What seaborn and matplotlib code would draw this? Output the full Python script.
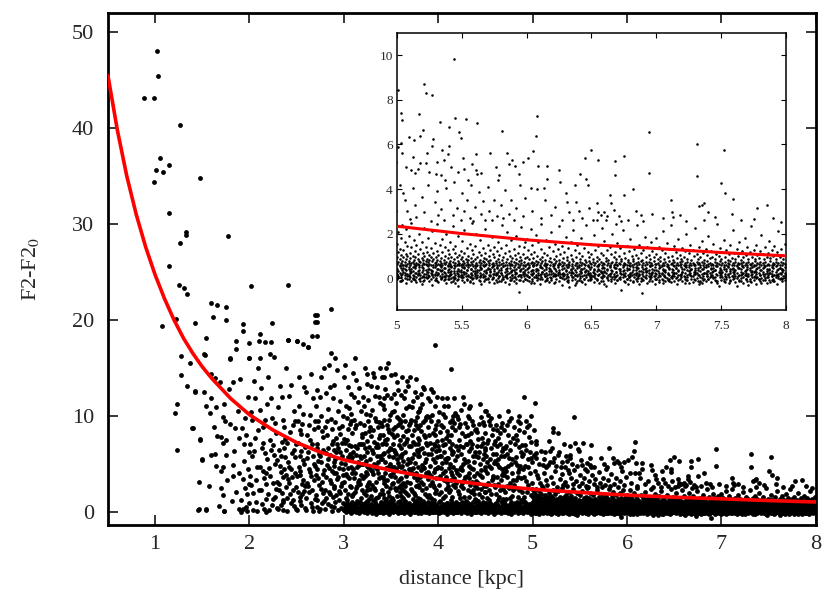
import numpy as np
import pandas as pd
import matplotlib
matplotlib.use("Agg")
import matplotlib.pyplot as plt
import seaborn as sns

# ---------------- data ----------------
# red fitted curve, distance [kpc] -> F2-F2_0
curve_d = [0.5, 0.6, 0.7, 0.8, 0.9, 1.0, 1.1, 1.2, 1.3, 1.4, 1.5, 1.6, 1.8, 2.0,
           2.25, 2.5, 2.75, 3.0, 3.5, 4.0, 4.5, 5.0, 5.5, 6.0, 6.5, 7.0, 7.5, 8.0]
curve_f = [45.5, 39.8, 35.0, 31.0, 27.6, 24.7, 22.2, 20.0, 18.1, 16.5, 15.1, 13.9, 11.8, 10.1,
           8.5, 7.2, 6.2, 5.4, 4.3, 3.4, 2.8, 2.33, 2.0, 1.72, 1.50, 1.33, 1.15, 1.0]

# scatter points: flat pairs (distance*100, value*10)
outliers_near = [102,480, 103,454, 88,431, 99,431, 126,403, 105,369, 115,362, 101,356, 108,354, 99,344,
    148,348, 115,311, 133,292, 133,288, 126,280, 177,287, 115,256, 125,236, 131,233, 134,227, 202,235,
    241,236, 159,218, 166,216, 175,213, 107,194, 122,201, 142,197, 154,181, 161,203, 175,200, 193,196,
    193,188, 224,197, 211,185, 216,177, 186,178, 200,176, 269,205, 271,198, 286,211, 271,183, 241,179,
    250,178, 257,175, 262,172, 127,162, 153,163, 179,160, 200,160, 222,164, 137,155, 127,142, 134,131,
    142,126, 123,112, 121,103, 123,64, 140,87, 148,75, 150,54, 146,3, 154,3, 173,1]
cloud_14_19 = [152,164, 179,159, 186,170, 159,144, 163,139, 169,135, 182,135, 142,125, 152,125, 159,118,
    154,110, 164,109, 173,112, 158,103, 172,99, 174,94, 179,91, 185,87, 139,87, 148,76, 166,79, 170,78,
    172,72, 175,75, 189,77, 150,55, 159,59, 163,60, 175,59, 172,47, 170,42, 182,49, 182,37, 189,40,
    170,25, 172,17, 181,11, 186,20, 145,2, 154,2, 173,1, 189,3, 176,33, 165,48, 157,27, 168,6, 184,63,
    147,31, 162,88, 178,128, 188,105]
cloud_19_25 = [191,12, 193,34, 194,71, 195,98, 196,5, 197,18, 198,44, 199,62, 192,87, 190,138, 195,25,
    197,1, 193,3, 198,120, 199,29, 194,53, 196,80, 191,0,
    200,9, 201,37, 202,104, 203,58, 204,19, 205,136, 206,77, 207,10, 208,46, 209,85, 200,160, 202,28,
    204,2, 205,63, 206,119, 207,33, 208,1, 209,150, 203,96, 201,71,
    210,22, 211,106, 211,47, 212,23, 213,66, 214,72, 215,3, 216,96, 217,40, 218,13, 219,55, 210,178,
    212,129, 213,8, 214,88, 215,35, 216,61, 217,0, 218,29, 219,112, 211,160, 214,42,
    220,18, 221,45, 222,75, 223,118, 224,7, 225,30, 226,59, 227,92, 228,24, 229,4, 220,140, 222,37,
    223,64, 224,98, 225,13, 226,161, 227,50, 228,82, 229,31, 221,2, 223,177, 225,69, 227,15, 229,54,
    230,109, 231,22, 232,48, 233,7, 234,73, 235,36, 236,12, 237,88, 238,57, 239,26, 230,3, 231,64,
    232,131, 233,41, 234,19, 235,96, 236,2, 237,44, 238,76, 239,150, 231,29, 233,58, 235,10, 237,66,
    239,38, 234,120,
    240,14, 241,179, 241,52, 242,30, 243,83, 244,9, 245,61, 246,23, 247,105, 248,40, 249,70, 240,1,
    242,47, 243,18, 244,132, 245,36, 246,90, 247,6, 248,57, 249,26, 240,72, 242,121, 244,44, 246,12,
    248,95, 249,3, 241,34, 247,64]
cloud_25_30 = [250,178, 251,20, 252,46, 253,85, 254,11, 255,63, 256,29, 257,102, 258,50, 259,4, 250,37,
    251,72, 252,140, 253,15, 254,58, 255,7, 256,91, 257,33, 258,21, 259,67, 250,2, 252,110, 253,42,
    255,81, 256,18, 257,54, 258,130, 259,27, 251,95, 254,38,
    260,14, 261,56, 262,172, 262,27, 263,90, 264,41, 265,9, 266,70, 267,118, 268,33, 269,48, 260,2,
    261,80, 262,62, 263,20, 264,101, 265,37, 266,5, 267,58, 268,86, 269,13, 260,125, 261,30, 263,44,
    264,75, 265,143, 266,22, 267,1, 268,50, 269,95, 266,183, 269,198,
    270,38, 271,205, 271,12, 272,66, 273,95, 274,28, 275,3, 276,52, 277,84, 278,19, 279,43, 270,110,
    271,71, 272,5, 273,35, 274,60, 275,120, 276,24, 277,9, 278,78, 279,150, 270,17, 272,44, 273,88,
    274,1, 275,58, 276,100, 277,31, 278,64, 279,11, 271,127, 273,53, 276,140, 278,39,
    280,22, 281,61, 282,94, 283,8, 284,45, 285,130, 286,30, 287,71, 288,15, 289,52, 280,3, 281,36,
    282,80, 283,107, 284,20, 285,59, 286,6, 287,42, 288,118, 289,27, 280,88, 281,14, 282,49, 283,66,
    284,153, 285,33, 286,97, 287,1, 288,74, 289,40, 281,124, 283,55, 285,18, 287,86, 289,64, 286,165,
    290,48, 291,10, 292,77, 293,34, 294,105, 295,21, 296,62, 297,4, 298,89, 299,38, 290,132, 291,55,
    292,17, 293,70, 294,2, 295,45, 296,115, 297,27, 298,58, 299,9, 290,25, 291,93, 292,40, 293,148,
    294,66, 295,12, 296,81, 297,51, 298,30, 299,100, 290,5, 292,62, 294,36, 296,19, 298,72, 299,44,
    291,160, 295,87]
cloud_30_35 = [300,31, 301,72, 302,14, 303,98, 304,45, 305,5, 306,60, 307,123, 308,26, 309,82, 300,2,
    301,50, 302,110, 303,37, 304,18, 305,69, 306,91, 307,8, 308,54, 309,40, 300,140, 301,22, 302,64,
    303,12, 304,86, 305,35, 306,1, 307,47, 308,102, 309,16, 300,76, 302,39, 304,130, 306,27, 308,68,
    309,57, 301,153, 303,75, 305,108, 307,95, 308,3, 304,57,
    310,44, 311,8, 312,87, 313,25, 314,66, 315,114, 316,33, 317,3, 318,56, 319,78, 310,18, 311,96,
    312,40, 313,137, 314,11, 315,52, 316,71, 317,29, 318,105, 319,6, 310,62, 311,35, 312,20, 313,90,
    314,47, 315,2, 316,129, 317,58, 318,14, 319,81, 310,145, 312,68, 314,27, 316,9, 318,38, 319,50,
    311,120, 313,59, 315,31, 317,92, 319,22, 310,1, 316,49, 312,160, 318,71,
    320,35, 321,58, 322,9, 323,102, 324,27, 325,74, 326,46, 327,13, 328,88, 329,2, 320,120, 321,19,
    322,66, 323,41, 324,143, 325,5, 326,95, 327,31, 328,55, 329,79, 320,8, 321,110, 322,37, 323,17,
    324,62, 325,48, 326,1, 327,84, 328,24, 329,131, 320,70, 322,150, 324,11, 326,29, 328,101, 329,43,
    321,90, 323,53, 325,133, 327,67, 329,16, 320,50, 322,82, 324,39, 326,116, 328,4, 325,22, 327,45,
    330,28, 331,61, 332,140, 333,7, 334,95, 335,44, 336,15, 337,77, 338,113, 339,36, 330,3, 331,85,
    332,50, 333,22, 334,67, 335,130, 336,40, 337,2, 338,58, 339,92, 330,106, 331,12, 332,73, 333,47,
    334,31, 335,6, 336,88, 337,120, 338,18, 339,55, 330,64, 331,145, 332,25, 333,98, 334,1, 335,70,
    336,52, 337,35, 338,80, 339,10, 331,39, 333,121, 335,58, 337,93, 339,4, 332,5, 334,48, 336,67,
    338,150, 330,42, 334,14, 337,0,
    340,55, 341,18, 342,96, 343,33, 344,128, 345,70, 346,9, 347,47, 348,83, 349,25, 340,2, 341,111,
    342,61, 343,4, 344,40, 345,150, 346,76, 347,20, 348,58, 349,101, 340,89, 341,36, 342,14, 343,72,
    344,52, 345,27, 346,122, 347,1, 348,44, 349,66, 340,140, 341,80, 342,30, 343,107, 344,10, 345,45,
    346,90, 347,63, 348,16, 349,38, 340,23, 342,118, 344,75, 346,33, 348,96, 349,5, 341,60, 343,140,
    345,13, 347,86, 349,50, 340,70, 343,0, 346,2, 348,1, 347,155]
cloud_35_40 = [350,37, 351,81, 352,12, 353,64, 354,143, 355,22, 356,99, 357,51, 358,6, 359,75, 350,118,
    351,29, 352,57, 353,3, 354,88, 355,44, 356,16, 357,127, 358,69, 359,34, 350,9, 351,104, 352,40,
    353,78, 354,25, 355,60, 356,135, 357,1, 358,48, 359,92, 350,65, 351,14, 352,86, 353,46, 354,7,
    355,113, 356,55, 357,32, 358,97, 359,20, 350,142, 352,70, 354,36, 356,80, 358,26, 359,58, 351,47,
    353,123, 355,4, 357,90, 359,11, 350,2, 352,30, 354,62, 356,2, 358,0, 355,1, 353,105,
    360,46, 361,7, 362,88, 363,30, 364,118, 365,62, 366,19, 367,76, 368,131, 369,40, 360,3, 361,57,
    362,24, 363,101, 364,42, 365,11, 366,84, 367,50, 368,2, 369,68, 360,95, 361,35, 362,140, 363,14,
    364,70, 365,27, 366,108, 367,5, 368,55, 369,90, 360,66, 361,122, 362,48, 363,79, 364,21, 365,94,
    366,37, 367,136, 368,17, 369,3, 360,28, 362,60, 364,9, 366,73, 368,85, 369,44, 361,16, 363,53,
    365,126, 367,31, 369,110, 360,1, 362,0, 364,2, 366,1, 368,0,
    370,52, 371,96, 372,21, 373,73, 374,8, 375,125, 376,40, 377,64, 378,14, 379,87, 370,30, 371,2,
    372,109, 373,45, 374,60, 375,17, 376,138, 377,33, 378,77, 379,5, 370,92, 371,24, 372,56, 373,115,
    374,36, 375,70, 376,10, 377,99, 378,47, 379,28, 370,6, 371,68, 372,40, 373,13, 374,85, 375,51,
    376,27, 377,120, 378,62, 379,104, 370,140, 372,80, 374,19, 376,90, 378,35, 379,58, 371,44, 373,3,
    375,95, 377,11, 379,71, 370,1, 374,0, 378,1, 372,1, 376,2,
    380,26, 381,65, 382,9, 383,112, 384,47, 385,80, 386,18, 387,55, 388,100, 389,34, 380,4, 381,90,
    382,43, 383,22, 384,130, 385,61, 386,7, 387,72, 388,38, 389,118, 380,58, 381,13, 382,84, 383,49,
    384,29, 385,3, 386,96, 387,40, 388,69, 389,15, 380,105, 381,36, 382,123, 383,66, 384,11, 385,45,
    386,78, 387,25, 388,2, 389,88, 380,75, 382,31, 384,93, 386,52, 388,16, 389,60, 381,108, 383,6,
    385,128, 387,99, 389,41, 380,0, 383,1, 386,1, 388,0,
    390,39, 391,72, 392,14, 393,101, 394,55, 395,26, 396,86, 397,3, 398,63, 399,120, 390,17, 391,48,
    392,94, 393,31, 394,8, 395,70, 396,44, 397,110, 398,22, 399,57, 390,80, 391,5, 392,37, 393,65,
    394,125, 395,12, 396,52, 397,80, 398,35, 399,2, 390,99, 392,60, 394,28, 396,19, 398,90, 399,45,
    391,115, 393,10, 395,41, 397,68, 399,74, 397,174, 390,1, 393,0, 396,1, 399,0, 391,28, 394,82,
    398,7, 392,128]
cloud_40_45 = [400,46, 401,18, 402,83, 403,58, 404,6, 405,102, 406,33, 407,71, 408,24, 409,119, 400,3,
    401,64, 402,37, 403,90, 404,51, 405,14, 406,110, 407,42, 408,77, 409,9, 400,95, 401,28, 402,58,
    403,20, 404,75, 405,40, 406,2, 407,99, 408,52, 409,31, 400,68, 402,11, 404,118, 406,62, 408,36,
    409,84, 401,104, 403,45, 405,69, 407,16, 409,56, 400,1, 403,0, 406,1, 409,0, 405,88, 402,4, 407,55,
    410,27, 411,74, 412,50, 413,149, 413,12, 414,96, 415,38, 416,62, 417,5, 418,85, 419,43, 410,110,
    411,20, 412,66, 413,33, 414,9, 415,88, 416,47, 417,118, 418,26, 419,68, 410,56, 411,3, 412,93,
    413,41, 414,71, 415,15, 416,100, 417,35, 418,54, 419,2, 410,80, 412,22, 414,60, 416,8, 418,103,
    419,30, 411,45, 413,80, 415,63, 417,92, 410,0, 414,1, 418,0, 416,28,
    420,58, 421,21, 422,88, 423,44, 424,106, 425,10, 426,67, 427,33, 428,79, 429,52, 420,3, 421,97,
    422,38, 423,14, 424,60, 425,82, 426,25, 427,112, 428,6, 429,71, 420,40, 421,64, 422,18, 423,91,
    424,47, 425,30, 426,120, 427,55, 428,36, 429,11, 420,100, 422,75, 424,27, 426,50, 428,92, 429,2,
    421,8, 423,68, 425,43, 427,15, 420,0, 424,1, 428,1,
    430,37, 431,80, 432,15, 433,63, 434,110, 435,45, 436,5, 437,90, 438,52, 439,27, 430,70, 431,22,
    432,98, 433,40, 434,8, 435,66, 436,31, 437,58, 438,18, 439,85, 430,10, 431,53, 432,35, 433,108,
    434,74, 435,20, 436,95, 437,44, 438,2, 439,62, 430,88, 432,48, 434,28, 436,70, 438,37, 439,13,
    431,100, 433,5, 435,82, 437,23, 431,0, 435,1, 439,0,
    440,32, 441,68, 442,11, 443,91, 444,50, 445,24, 446,77, 447,4, 448,60, 449,105, 440,86, 441,40,
    442,57, 443,18, 444,7, 445,99, 446,36, 447,72, 448,27, 449,47, 440,12, 441,83, 442,30, 443,62,
    444,112, 445,43, 446,3, 447,55, 448,90, 449,20, 440,58, 442,76, 444,38, 446,15, 448,8, 449,66,
    441,25, 445,68, 447,93, 440,1, 444,0, 448,1]
cloud_45_50 = [450,43, 451,9, 452,72, 453,30, 454,95, 455,55, 456,18, 457,80, 458,37, 459,2, 450,64,
    451,27, 452,14, 453,101, 454,48, 455,8, 456,66, 457,33, 458,86, 459,51, 450,20, 451,58, 452,40,
    453,75, 454,23, 455,90, 456,45, 457,6, 458,60, 459,28, 450,82, 452,52, 454,12, 456,98, 458,35,
    459,70, 451,105, 455,1, 459,0, 453,0,
    460,26, 461,60, 462,85, 463,12, 464,47, 465,70, 466,33, 467,5, 468,92, 469,40, 460,53, 461,18,
    462,36, 463,77, 464,100, 465,23, 466,58, 467,44, 468,10, 469,66, 460,8, 461,90, 462,50, 463,29,
    464,15, 465,82, 466,4, 467,63, 468,38, 469,24, 460,74, 463,55, 466,88, 469,13, 461,1, 465,0,
    467,1, 462,68,
    470,38, 471,66, 472,13, 473,90, 474,48, 475,25, 476,73, 477,7, 478,55, 479,33, 470,85, 471,20,
    472,42, 473,60, 474,3, 475,94, 476,30, 477,50, 478,16, 479,77, 470,10, 471,45, 472,68, 473,27,
    474,80, 475,56, 476,14, 477,98, 478,40, 479,5, 470,58, 473,36, 476,64, 479,22, 472,0, 477,1, 474,105,
    480,28, 481,52, 482,80, 483,10, 484,41, 485,67, 486,22, 487,92, 488,35, 489,58, 480,6, 481,70,
    482,33, 483,49, 484,15, 485,85, 486,44, 487,3, 488,62, 489,20, 480,88, 481,25, 482,57, 483,75,
    484,36, 485,8, 486,100, 487,48, 488,12, 489,69, 482,2, 486,0, 489,1, 484,95,
    490,44, 491,15, 492,69, 493,32, 494,88, 495,55, 496,8, 497,40, 498,73, 499,24, 490,60, 491,36,
    492,10, 493,95, 494,20, 495,47, 496,78, 497,3, 498,56, 499,30, 490,12, 491,83, 492,48, 493,64,
    494,5, 495,28, 496,90, 497,62, 498,17, 499,52, 491,120, 493,1, 496,0, 499,1, 498,100, 502,113]

# points with finer values: flat pairs (distance*100, value*100)
band_30_40 = [300,12, 301,35, 302,-5, 303,20, 304,48, 305,8, 306,27, 307,-12, 308,15, 309,40, 310,3,
    311,22, 312,55, 313,-8, 314,30, 315,14, 316,-18, 317,45, 318,6, 319,25, 320,33, 321,-3, 322,18,
    323,60, 324,9, 325,-15, 326,28, 327,40, 328,2, 329,16, 330,-10, 330,24, 331,50, 332,7, 333,31,
    334,-20, 335,13, 336,42, 337,19, 338,-6, 339,35, 340,5, 340,27, 341,-14, 342,58, 343,11, 344,22,
    345,-2, 346,38, 347,15, 348,-25, 349,30, 350,8, 350,44, 351,19, 352,-9, 353,26, 354,3, 355,52,
    356,14, 357,-17, 358,33, 359,21, 360,6, 360,-4, 361,40, 362,17, 363,28, 364,-12, 365,9, 366,48,
    367,23, 368,-1, 369,35, 370,12, 370,-20, 371,30, 372,5, 373,55, 374,18, 375,-7, 376,26, 377,42,
    378,10, 379,-15, 380,20, 380,36, 381,2, 382,-10, 383,28, 384,15, 385,50, 386,-3, 387,24, 388,8,
    389,38, 390,-18, 390,13, 391,30, 392,45, 393,4, 394,-8, 395,22, 396,33, 397,-1, 398,17, 399,57]
band_40_50 = [400,10, 400,30, 401,-12, 402,22, 403,4, 404,45, 405,15, 406,-6, 407,34, 408,20, 409,-22,
    410,8, 410,40, 411,26, 412,-3, 413,13, 414,55, 415,30, 416,-15, 417,6, 418,24, 419,38, 420,-8,
    420,16, 421,48, 422,2, 423,28, 424,-19, 425,12, 426,35, 427,20, 428,-4, 429,9, 430,42, 430,-11,
    431,25, 432,5, 433,58, 434,17, 435,-26, 436,31, 437,11, 438,22, 439,-2, 440,14, 440,46, 441,-9,
    442,27, 443,3, 444,36, 445,-16, 446,19, 447,8, 448,52, 449,24, 450,-5, 450,13, 451,39, 452,21,
    453,-13, 454,6, 455,30, 456,44, 457,-1, 458,16, 459,-30, 460,27, 460,9, 461,50, 462,-7, 463,19,
    464,33, 465,2, 466,-18, 467,24, 468,12, 469,40, 470,-3, 470,28, 471,6, 472,55, 473,15, 474,-11,
    475,35, 476,22, 477,-24, 478,8, 479,31, 480,17, 480,-6, 481,45, 482,11, 483,26, 484,-14, 485,3,
    486,38, 487,20, 488,-2, 489,13, 490,50, 490,-17, 491,29, 492,7, 493,34, 494,-9, 495,18, 496,42,
    497,1, 498,-20, 499,25]
low_30_50 = [301,65, 303,90, 305,48, 307,75, 309,100, 311,58, 313,82, 315,40, 317,95, 319,70, 321,52,
    323,88, 325,105, 327,62, 329,78, 331,45, 333,98, 335,68, 337,55, 339,85, 341,72, 343,50, 345,92,
    347,66, 349,108, 351,57, 353,80, 355,44, 357,97, 359,63, 361,76, 363,54, 365,102, 367,70, 369,88,
    371,47, 373,64, 375,95, 377,58, 379,82, 381,73, 383,42, 385,90, 387,60, 389,105, 391,68, 393,52,
    395,84, 397,76, 399,46, 401,98, 403,62, 405,80, 407,55, 409,92, 411,70, 413,48, 415,86, 417,64,
    419,100, 421,58, 423,78, 425,45, 427,94, 429,67, 431,84, 433,53, 435,72, 437,104, 439,60, 441,88,
    443,47, 445,76, 447,96, 449,62, 451,80, 453,55, 455,91, 457,68, 459,50, 461,86, 463,73, 465,45,
    467,99, 469,64, 471,82, 473,57, 475,70, 477,102, 479,48, 481,88, 483,66, 485,78, 487,53, 489,95,
    491,60, 493,84, 495,71, 497,49, 499,90]
band_50_55 = [500,12, 500,-5, 501,31, 501,8, 502,-14, 502,22, 503,45, 503,3, 504,17, 504,-8, 505,27,
    505,60, 506,1, 506,14, 507,-21, 507,36, 508,9, 508,19, 509,-2, 509,52, 510,25, 510,6, 511,-11,
    511,40, 512,15, 512,30, 513,-4, 513,11, 514,55, 514,21, 515,-17, 515,7, 516,33, 516,18, 517,-6,
    517,48, 518,13, 518,2, 519,26, 519,-25, 520,10, 520,38, 521,-9, 521,20, 522,4, 522,62, 523,29,
    523,-1, 524,16, 524,43, 525,-13, 525,8, 526,24, 526,35, 527,-30, 527,12, 528,5, 528,50, 529,19,
    529,-7, 530,28, 530,1, 531,41, 531,14, 532,-18, 532,23, 533,9, 533,57, 534,-3, 534,32, 535,17,
    535,6, 536,-10, 536,44, 537,21, 537,3, 538,-22, 538,13, 539,37, 539,26, 540,-5, 540,10, 541,53,
    541,18, 542,-1, 542,30, 543,7, 543,-15, 544,24, 544,46, 545,2, 545,15, 546,-8, 546,34, 547,20,
    547,-35, 548,11, 548,58, 549,27, 549,4, 500,20, 503,-12, 506,40, 509,15, 512,-3, 515,24, 518,-14,
    521,5, 524,29, 527,18, 530,-9, 533,36, 536,11, 539,-2, 542,19, 545,-24, 548,32, 547,9, 544,-6, 541,28]
band_55_60 = [550,14, 550,-7, 551,29, 551,3, 552,48, 552,-16, 553,9, 553,21, 554,-2, 554,37, 555,16,
    555,60, 556,-11, 556,6, 557,25, 557,42, 558,-4, 558,12, 559,31, 559,-20, 560,8, 560,19, 561,53,
    561,-1, 562,27, 562,13, 563,-9, 563,35, 564,4, 564,22, 565,-26, 565,46, 566,17, 566,7, 567,-13,
    567,30, 568,11, 568,58, 569,-5, 569,24, 570,2, 570,39, 571,15, 571,-17, 572,28, 572,9, 573,-3,
    573,50, 574,20, 574,5, 575,-23, 575,33, 576,12, 576,-8, 577,44, 577,18, 578,1, 578,26, 579,-14,
    579,9, 580,36, 580,21, 581,-6, 581,14, 582,55, 582,3, 583,-19, 583,29, 584,10, 584,41, 585,-1,
    585,17, 586,-28, 586,23, 587,6, 587,47, 588,-10, 588,32, 589,13, 589,2, 590,-15, 590,38, 591,20,
    591,7, 592,-4, 592,25, 593,52, 593,11, 594,-60, 594,16, 595,30, 595,-7, 596,4, 596,43, 597,19,
    597,-12, 598,27, 598,8, 599,-2, 599,35, 552,18, 556,-19, 560,31, 564,10, 568,-6, 572,40, 576,24,
    580,-11, 584,15, 588,26, 592,-22, 596,13, 599,20, 557,5, 583,9, 591,28]
band_60_65 = [600,10, 600,-8, 601,27, 601,44, 602,4, 602,-15, 603,19, 603,33, 604,-3, 604,12, 605,57,
    605,23, 606,-20, 606,7, 607,30, 607,15, 608,-10, 608,40, 609,2, 609,21, 610,-27, 610,13, 611,48,
    611,6, 612,-5, 612,26, 613,17, 613,35, 614,-14, 614,9, 615,22, 615,52, 616,-1, 616,14, 617,31,
    617,-18, 618,5, 618,39, 619,18, 619,-7, 620,25, 620,11, 621,-24, 621,45, 622,8, 622,20, 623,-3,
    623,34, 624,15, 624,60, 625,-12, 625,28, 626,3, 626,17, 627,-32, 627,41, 628,10, 628,23, 629,-6,
    629,14, 630,30, 630,-1, 631,50, 631,19, 632,7, 632,-16, 633,-38, 633,26, 634,12, 634,36, 635,-9,
    635,4, 636,21, 636,47, 637,-4, 637,15, 638,29, 638,-21, 639,9, 639,55, 640,18, 640,-7, 641,2,
    641,33, 642,24, 642,-13, 643,11, 643,42, 644,-2, 644,16, 645,28, 645,-26, 646,6, 646,37, 647,20,
    647,-10, 648,13, 648,49, 649,-5, 649,25, 603,-22, 607,5, 611,18, 615,-8, 619,32, 623,12, 627,20,
    631,-11, 635,27, 639,15, 643,-19, 647,31, 649,7, 605,38, 637,-30]
band_65_70 = [650,15, 650,-4, 651,29, 651,8, 652,-17, 652,41, 653,20, 653,2, 654,-9, 654,33, 655,12,
    655,55, 656,-23, 656,18, 657,6, 657,26, 658,-1, 658,44, 659,14, 659,-13, 660,31, 660,9, 661,-35,
    661,21, 662,3, 662,38, 663,-7, 663,16, 664,50, 664,11, 665,-15, 665,24, 666,5, 666,34, 667,-3,
    667,19, 668,46, 668,-20, 669,8, 669,27, 670,13, 670,-10, 671,40, 671,1, 672,22, 672,-6, 673,-51,
    673,17, 674,30, 674,7, 675,-14, 675,59, 676,10, 676,25, 677,-2, 677,36, 678,15, 678,-25, 679,4,
    679,43, 680,20, 680,-8, 681,12, 681,28, 682,-18, 682,52, 683,6, 683,19, 684,-4, 684,35, 685,23,
    685,-12, 686,9, 686,47, 687,-28, 687,14, 688,31, 688,2, 689,-66, 689,18, 690,26, 690,-9, 691,7,
    691,40, 692,16, 692,-1, 693,33, 693,-21, 694,11, 694,24, 695,-5, 695,56, 696,19, 696,3, 697,-14,
    697,29, 698,8, 698,38, 699,-3, 699,21, 652,10, 656,35, 660,-26, 664,19, 668,5, 672,32, 676,-17,
    680,8, 684,23, 688,-11, 692,30, 696,12, 699,-27, 658,22, 686,-1]
band_70_75 = [700,18, 700,-6, 701,33, 701,5, 702,-16, 702,24, 703,11, 703,48, 704,-3, 704,20, 705,37,
    705,-22, 706,8, 706,15, 707,-11, 707,29, 708,54, 708,2, 709,-7, 709,22, 710,13, 710,41, 711,-19,
    711,6, 712,26, 712,-1, 713,17, 713,35, 714,-13, 714,9, 715,45, 715,21, 716,-26, 716,3, 717,30,
    717,14, 718,-5, 718,58, 719,19, 719,7, 720,-15, 720,27, 721,10, 721,39, 722,-2, 722,23, 723,50,
    723,-9, 724,16, 724,4, 725,-20, 725,32, 726,12, 726,25, 727,-4, 727,43, 728,8, 728,-17, 729,28,
    729,18, 730,-8, 730,36, 731,1, 731,21, 732,-12, 732,47, 733,-28, 733,14, 734,30, 734,6, 735,-24,
    735,19, 736,40, 736,11, 737,-3, 737,25, 738,52, 738,-14, 739,9, 739,17, 740,-6, 740,33, 741,22,
    741,3, 742,-18, 742,44, 743,13, 743,27, 744,-1, 744,7, 745,35, 745,-10, 746,20, 746,56, 747,-21,
    747,12, 748,-35, 748,29, 749,4, 749,38, 702,-9, 706,31, 710,-4, 714,22, 718,12, 722,-23, 726,37,
    730,17, 734,-11, 738,24, 742,8, 746,-15, 749,21, 712,8, 736,-8]
band_75_80 = [750,13, 750,-7, 751,27, 751,4, 752,-14, 752,39, 753,19, 753,8, 754,-2, 754,31, 755,50,
    755,15, 756,-20, 756,6, 757,24, 757,-9, 758,42, 758,11, 759,-4, 759,29, 760,17, 760,2, 761,-16,
    761,36, 762,-35, 762,21, 763,8, 763,46, 764,-11, 764,14, 765,28, 765,-1, 766,55, 766,18, 767,-23,
    767,5, 768,33, 768,12, 769,-6, 769,25, 770,40, 770,-13, 771,9, 771,20, 772,-3, 772,37, 773,15,
    773,-19, 774,48, 774,3, 775,26, 775,-8, 776,11, 776,31, 777,-27, 777,18, 778,7, 778,44, 779,-4,
    779,22, 780,14, 780,-15, 781,35, 781,2, 782,-10, 782,27, 783,52, 783,9, 784,-1, 784,19, 785,-22,
    785,33, 786,13, 786,5, 787,-7, 787,41, 788,24, 788,-17, 789,10, 789,30, 790,-3, 790,58, 791,16,
    791,-12, 792,4, 792,26, 793,-25, 793,38, 794,11, 794,20, 795,-6, 795,45, 796,17, 796,1, 797,-14,
    797,29, 798,8, 798,36, 799,-9, 799,22, 753,-18, 757,34, 761,10, 765,-13, 769,16, 773,29, 777,2,
    781,-20, 785,24, 789,-8, 793,14, 797,40, 799,5, 771,-29, 789,19]
band_core = [501,5, 503,16, 504,-10, 506,24, 508,-3, 509,10, 511,28, 512,0, 514,-8, 516,13, 517,21,
    519,4, 520,-15, 522,17, 524,7, 526,-4, 527,30, 529,12, 531,-11, 532,19, 534,2, 536,26, 537,-6,
    539,9, 541,15, 542,-18, 544,6, 546,22, 547,-2, 549,14, 550,3, 552,27, 554,-9, 555,11, 557,18,
    559,-1, 560,24, 562,6, 564,-13, 565,16, 567,8, 569,29, 570,-5, 572,13, 574,1, 575,20, 577,-16,
    579,10, 580,25, 582,-3, 584,7, 585,31, 587,-10, 589,15, 590,4, 592,21, 594,-7, 595,12, 597,26,
    599,-2, 600,16, 602,7, 604,-12, 605,22, 607,3, 609,13, 610,-4, 612,27, 614,9, 616,-9, 617,18,
    619,1, 621,14, 622,-16, 624,25, 626,5, 627,-1, 629,19, 631,10, 632,-7, 634,24, 636,3, 637,16,
    639,-12, 641,8, 642,28, 644,-3, 646,12, 647,21, 649,-8, 650,6, 652,23, 654,-2, 655,14, 657,-14,
    659,9, 660,26, 662,1, 664,17, 665,-6, 667,11, 669,29, 670,-10, 672,4, 674,20, 675,13, 677,-4,
    679,7, 680,24, 682,-11, 684,15, 685,2, 687,18, 689,-5, 690,10, 692,27, 694,-13, 695,5, 697,21,
    699,8, 700,-2, 702,14, 704,25, 705,-8, 707,6, 709,17, 710,-14, 712,11, 714,23, 715,0, 717,-7,
    719,15, 720,28, 722,4, 724,-10, 725,19, 727,8, 729,-3, 730,26, 732,12, 734,-16, 735,2, 737,21,
    739,9, 740,-6, 742,16, 744,30, 745,3, 747,-11, 749,13, 750,24, 752,-4, 754,7, 755,18, 757,-12,
    759,10, 760,27, 762,1, 764,-8, 765,15, 767,22, 769,-2, 770,9, 772,-15, 774,17, 775,6, 777,28,
    779,-5, 780,12, 782,20, 784,-9, 785,4, 787,25, 789,11, 790,-13, 792,16, 794,2, 795,23, 797,-6, 799,13]
band_upper = [500,41, 502,53, 504,36, 505,47, 507,55, 509,39, 510,33, 512,49, 514,44, 515,58, 517,35,
    519,51, 520,46, 522,38, 524,54, 525,42, 527,34, 529,48, 530,57, 532,40, 534,50, 535,36, 537,45,
    539,53, 540,39, 542,48, 544,34, 545,56, 547,43, 549,37, 550,52, 552,45, 554,35, 555,49, 557,40,
    559,56, 560,44, 562,36, 564,51, 565,41, 567,54, 569,38, 570,47, 572,33, 574,55, 575,42, 577,50,
    579,37, 580,46, 582,53, 584,39, 585,44, 587,57, 589,35, 590,48, 592,42, 594,52, 595,38, 597,46,
    599,55, 600,40, 602,49, 604,35, 605,54, 607,43, 609,37, 610,51, 612,45, 614,57, 615,39, 617,47,
    619,34, 620,53, 622,41, 624,48, 625,36, 627,55, 629,44, 630,38, 632,50, 634,42, 635,56, 637,35,
    639,47, 640,52, 642,39, 644,45, 645,33, 647,54, 649,41, 650,49, 652,37, 654,56, 655,43, 657,34,
    659,50, 660,46, 662,40, 664,53, 665,36, 667,48, 669,44, 670,57, 672,39, 674,51, 675,35, 677,46,
    679,42, 680,55, 682,38, 684,49, 685,45, 687,34, 689,52, 690,40, 692,47, 694,36, 695,54, 697,43,
    699,50, 700,38, 702,45, 704,55, 705,41, 707,35, 709,52, 710,47, 712,39, 714,56, 715,44, 717,37,
    719,50, 720,42, 722,53, 724,35, 725,48, 727,40, 729,57, 730,45, 732,36, 734,51, 735,43, 737,49,
    739,34, 740,54, 742,41, 744,46, 745,38, 747,55, 749,44, 750,36, 752,50, 754,42, 755,53, 757,39,
    759,47, 760,35, 762,56, 764,44, 765,40, 767,52, 769,37, 770,48, 772,45, 774,34, 775,54, 777,42,
    779,50, 780,38, 782,46, 784,55, 785,41, 787,36, 789,49, 790,44, 792,53, 794,39, 795,47, 797,35, 799,51]
mid_50_60 = [500,64, 500,97, 500,152, 501,71, 501,118, 501,205, 502,58, 502,86, 502,133, 503,66, 503,104,
    503,178, 504,61, 504,79, 504,240, 505,93, 505,126, 506,57, 506,72, 506,161, 507,84, 507,110, 507,219,
    508,63, 508,98, 508,145, 509,69, 509,77, 509,188, 510,59, 510,115, 510,90, 511,67, 511,139, 511,248,
    512,74, 512,101, 513,62, 513,83, 513,170, 514,56, 514,121, 514,95, 515,70, 515,150, 516,65, 516,88,
    516,108, 517,60, 517,196, 517,77, 518,73, 518,129, 519,58, 519,92, 519,163, 520,81, 520,68, 520,114,
    521,63, 521,226, 521,99, 522,76, 522,142, 523,59, 523,87, 523,119, 524,71, 524,182, 525,64, 525,103,
    525,80, 526,57, 526,135, 526,94, 527,75, 527,210, 528,61, 528,112, 528,85, 529,68, 529,157, 530,58,
    530,96, 530,72, 531,124, 531,83, 531,243, 532,65, 532,106, 533,60, 533,148, 533,78, 534,90, 534,70,
    535,57, 535,117, 535,175, 536,82, 536,66, 537,100, 537,138, 537,62, 538,74, 538,200, 539,59, 539,89,
    539,127, 540,69, 540,108, 541,64, 541,160, 541,79, 542,95, 542,56, 543,73, 543,131, 543,232, 544,61,
    544,86, 545,111, 545,67, 545,146, 546,58, 546,93, 547,76, 547,189, 547,63, 548,102, 548,70, 549,57,
    549,122, 549,84, 550,65, 550,97, 550,168, 551,60, 551,78, 552,113, 552,69, 552,214, 553,88, 553,58,
    554,74, 554,137, 555,63, 555,101, 555,81, 556,57, 556,155, 557,71, 557,92, 558,62, 558,125, 558,246,
    559,77, 559,107, 560,59, 560,85, 560,143, 561,68, 561,196, 562,61, 562,96, 563,73, 563,118, 564,57,
    564,83, 564,172, 565,66, 565,105, 566,60, 566,134, 566,79, 567,71, 567,91, 568,58, 568,222, 568,114,
    569,64, 569,87, 570,75, 570,150, 571,59, 571,99, 571,68, 572,82, 572,128, 573,62, 573,185, 574,70,
    574,108, 575,57, 575,93, 575,140, 576,66, 576,77, 577,120, 577,60, 578,88, 578,163, 579,72, 579,58,
    579,102, 580,63, 580,135, 581,80, 581,237, 582,67, 582,95, 583,59, 583,112, 584,74, 584,148, 585,61,
    585,86, 585,205, 586,70, 586,121, 587,57, 587,99, 588,65, 588,79, 588,170, 589,92, 589,60, 590,73,
    590,130, 591,58, 591,106, 592,68, 592,84, 592,190, 593,62, 593,115, 594,76, 594,145, 595,59, 595,95,
    596,67, 596,228, 596,82, 597,61, 597,110, 598,72, 598,138, 599,58, 599,90, 599,160]
mid_60_70 = [600,62, 600,95, 600,175, 601,70, 601,128, 602,58, 602,84, 603,66, 603,110, 603,220, 604,74,
    604,148, 605,60, 605,90, 606,68, 606,118, 607,57, 607,79, 607,195, 608,101, 608,64, 609,72, 609,160,
    610,59, 610,88, 611,67, 611,132, 611,245, 612,76, 612,97, 613,61, 613,115, 614,70, 614,83, 615,58,
    615,170, 616,65, 616,104, 617,79, 617,140, 618,60, 618,92, 619,72, 619,206, 620,63, 620,122, 621,86,
    621,57, 622,69, 622,155, 623,75, 623,99, 624,59, 624,130, 625,66, 625,81, 625,232, 626,108, 626,62,
    627,73, 627,146, 628,58, 628,90, 629,68, 629,118, 630,61, 630,185, 631,80, 631,97, 632,64, 632,135,
    633,71, 633,57, 634,105, 634,162, 635,63, 635,84, 636,76, 636,215, 637,59, 637,125, 638,69, 638,94,
    639,66, 639,150, 640,58, 640,112, 641,74, 641,87, 642,61, 642,178, 643,70, 643,100, 644,64, 644,137,
    645,57, 645,82, 646,72, 646,240, 647,60, 647,119, 648,78, 648,93, 649,66, 649,155, 650,62, 650,107,
    651,71, 651,84, 652,58, 652,192, 653,68, 653,128, 654,76, 654,97, 655,60, 655,145, 656,65, 656,88,
    657,73, 657,113, 658,59, 658,226, 659,69, 659,102, 660,63, 660,166, 661,78, 661,90, 662,57, 662,125,
    663,70, 663,83, 664,61, 664,140, 665,67, 665,108, 666,74, 666,198, 667,59, 667,95, 668,64, 668,118,
    669,72, 669,85, 670,58, 670,158, 671,68, 671,100, 672,62, 672,134, 673,76, 673,88, 674,60, 674,215,
    675,70, 675,112, 676,65, 676,92, 677,58, 677,145, 678,73, 678,80, 679,61, 679,122, 680,67, 680,176,
    681,59, 681,98, 682,75, 682,86, 683,63, 683,130, 684,69, 684,104, 685,57, 685,238, 686,72, 686,90,
    687,62, 687,150, 688,78, 688,115, 689,60, 689,83, 690,66, 690,125, 691,58, 691,185, 692,71, 692,96,
    693,63, 693,140, 694,74, 694,106, 695,59, 695,87, 696,68, 696,160, 697,61, 697,120, 698,76, 698,93,
    699,64, 699,135]
mid_70_80 = [700,63, 700,108, 700,180, 701,70, 701,88, 702,58, 702,140, 703,75, 703,97, 704,61, 704,125,
    705,68, 705,210, 706,57, 706,84, 707,72, 707,112, 708,64, 708,158, 709,59, 709,93, 710,76, 710,130,
    711,62, 711,240, 712,69, 712,101, 713,57, 713,80, 714,73, 714,145, 715,60, 715,118, 716,66, 716,90,
    717,58, 717,175, 718,71, 718,104, 719,63, 719,85, 720,75, 720,136, 721,59, 721,96, 722,68, 722,122,
    723,61, 723,200, 724,73, 724,88, 725,57, 725,112, 726,66, 726,150, 727,60, 727,82, 728,70, 728,127,
    729,63, 729,98, 730,58, 730,225, 731,74, 731,107, 732,62, 732,86, 733,69, 733,140, 734,57, 734,93,
    735,72, 735,165, 736,60, 736,115, 737,67, 737,80, 738,59, 738,131, 739,75, 739,102, 740,63, 740,190,
    741,70, 741,89, 742,58, 742,120, 743,65, 743,96, 744,61, 744,152, 745,73, 745,84, 746,57, 746,110,
    747,68, 747,245, 748,62, 748,100, 749,76, 749,135, 750,59, 750,87, 751,66, 751,118, 752,60, 752,172,
    753,72, 753,94, 754,57, 754,126, 755,69, 755,82, 756,63, 756,108, 757,75, 757,148, 758,58, 758,91,
    759,67, 759,215, 760,61, 760,114, 761,73, 761,86, 762,57, 762,133, 763,70, 763,99, 764,62, 764,160,
    765,66, 765,83, 766,59, 766,120, 767,74, 767,95, 768,60, 768,180, 769,68, 769,105, 770,57, 770,140,
    771,72, 771,88, 772,63, 772,116, 773,58, 773,235, 774,70, 774,97, 775,61, 775,128, 776,75, 776,85,
    777,57, 777,150, 778,66, 778,102, 779,62, 779,90, 780,73, 780,122, 781,59, 781,195, 782,68, 782,108,
    783,60, 783,84, 784,71, 784,138, 785,57, 785,96, 786,65, 786,115, 787,61, 787,165, 788,76, 788,89,
    789,58, 789,126, 790,69, 790,100, 791,62, 791,145, 792,74, 792,86, 793,59, 793,118, 794,66, 794,210,
    795,60, 795,94, 796,72, 796,132, 797,57, 797,105, 798,68, 798,88, 799,63, 799,155]
upper_50_60 = [501,846, 521,869, 522,831, 527,821, 544,985, 503,741, 504,709, 517,738, 545,719, 553,712,
    562,694, 533,701, 540,679, 520,667, 581,659, 509,634, 513,622, 518,637, 528,626, 503,607, 501,589,
    548,656, 549,631, 527,592, 535,577, 540,592, 539,559, 523,562, 518,517, 522,517, 536,529, 551,537,
    561,555, 561,487, 562,466, 552,489, 547,477, 507,499, 511,487, 516,490, 525,477, 530,469, 534,465,
    537,439, 585,562, 586,511, 589,532, 591,505, 594,466,
    502,420, 505,380, 506,352, 508,300, 510,265, 512,405, 514,330, 515,275, 519,362, 521,298, 524,420,
    526,258, 529,340, 531,390, 532,282, 534,310, 536,262, 538,405, 541,350, 543,285, 544,430, 546,315,
    549,262, 550,380, 552,300, 554,350, 556,270, 557,420, 559,255, 560,320, 563,385, 565,290, 566,345,
    568,260, 570,410, 571,300, 573,260, 575,350, 577,280, 578,440, 580,330, 582,270, 583,395, 586,290,
    588,350, 590,260, 592,315, 595,420, 597,280, 599,360, 504,560, 512,545, 514,470, 531,520, 542,500,
    555,440, 558,510, 565,470, 572,560, 576,500, 579,462, 597,520]
upper_60_70 = [608,728, 607,637, 609,502, 616,504, 625,487, 616,443, 613,405, 603,405, 608,402, 650,574,
    655,529, 645,537, 641,469, 646,447, 647,418, 601,539, 605,569, 694,656, 694,474, 675,547, 668,526,
    668,462, 682,398, 675,375, 664,372, 665,335, 660,297, 667,305, 673,256, 669,245, 654,335, 655,297,
    662,278, 654,262, 661,262, 688,283, 604,300, 611,270, 614,350, 619,285, 622,320, 627,260, 630,380,
    633,295, 636,260, 638,340, 640,300, 643,270, 648,315, 651,260, 657,285, 671,280, 678,262, 684,300,
    690,255, 697,290, 626,430, 631,340, 637,420]
upper_70_80 = [731,604, 731,460, 752,574, 750,427, 753,380, 759,353, 778,317, 796,250, 711,350, 712,297,
    713,275, 733,323, 737,338, 740,295, 735,327, 723,256, 737,260, 758,290, 790,270, 775,265, 745,275,
    705,270, 718,285, 765,260, 785,330]

# ---------------- assemble ----------------
def to_frame(flat, yscale):
    arr = np.asarray(flat, dtype=float).reshape(-1, 2)
    return pd.DataFrame({"distance": arr[:, 0] / 100.0, "f2": arr[:, 1] / yscale})

tenths = [outliers_near, cloud_14_19, cloud_19_25, cloud_25_30, cloud_30_35, cloud_35_40,
          cloud_40_45, cloud_45_50]
hundredths = [band_30_40, band_40_50, low_30_50, band_50_55, band_55_60, band_60_65, band_65_70,
              band_70_75, band_75_80, band_core, band_upper, mid_50_60, mid_60_70, mid_70_80,
              upper_50_60, upper_60_70, upper_70_80]
df = pd.concat([to_frame(a, 10.0) for a in tenths] + [to_frame(a, 100.0) for a in hundredths],
               ignore_index=True)
curve = pd.DataFrame({"distance": curve_d, "f2": curve_f})

# ---------------- style ----------------
sns.set_style("ticks", {"xtick.direction": "in", "ytick.direction": "in"})
plt.rcParams["font.family"] = ["Liberation Serif", "DejaVu Serif"]
plt.rcParams["mathtext.fontset"] = "stix"

fig = plt.figure(figsize=(8.3, 6.08), dpi=100)
ax = fig.add_axes([0.130, 0.1365, 0.853, 0.842])

sns.scatterplot(data=df, x="distance", y="f2", ax=ax, s=12, color="black", linewidth=0, zorder=2)
sns.lineplot(data=curve, x="distance", y="f2", ax=ax, color="#ff0000", linewidth=2.6,
             sort=False, estimator=None, zorder=3)

ax.set_xlim(0.5, 8.0)
ax.set_ylim(-1.4, 52)
ax.set_xticks([1, 2, 3, 4, 5, 6, 7, 8])
ax.set_yticks([0, 10, 20, 30, 40, 50])
ax.tick_params(axis="both", which="both", direction="in", top=True, right=True,
               length=7, width=1.1, labelsize=16, color="black")
ax.tick_params(axis="y", pad=10)
ax.tick_params(axis="x", pad=7)
for sp in ax.spines.values():
    sp.set_linewidth(2.0)
    sp.set_color("black")
ax.set_xlabel("distance [kpc]", fontsize=16, labelpad=12)
ax.set_ylabel("F2-F2$_0$", fontsize=16, labelpad=22)

# ---------------- inset ----------------
axin = fig.add_axes([0.4783, 0.4901, 0.4687, 0.4556])
axin.set_facecolor("white")
sns.scatterplot(data=df, x="distance", y="f2", ax=axin, s=3.4, color="black", linewidth=0, zorder=2)
sns.lineplot(data=curve, x="distance", y="f2", ax=axin, color="#ff0000", linewidth=2.2,
             sort=False, estimator=None, zorder=3)
axin.set_xlim(5, 8)
axin.set_ylim(-1.43, 11.0)
axin.set_xticks([5, 5.5, 6, 6.5, 7, 7.5, 8])
axin.set_xticklabels(["5", "5.5", "6", "6.5", "7", "7.5", "8"])
axin.set_yticks([0, 2, 4, 6, 8, 10])
axin.tick_params(axis="both", direction="in", top=True, right=True, length=3.5, width=0.8,
                 labelsize=9.5, color="black")
axin.tick_params(axis="y", pad=3)
axin.tick_params(axis="x", pad=7)
axin.set_xlabel("")
axin.set_ylabel("")
for sp in axin.spines.values():
    sp.set_linewidth(1.1)
    sp.set_color("black")

fig.savefig("out.png", dpi=100)
